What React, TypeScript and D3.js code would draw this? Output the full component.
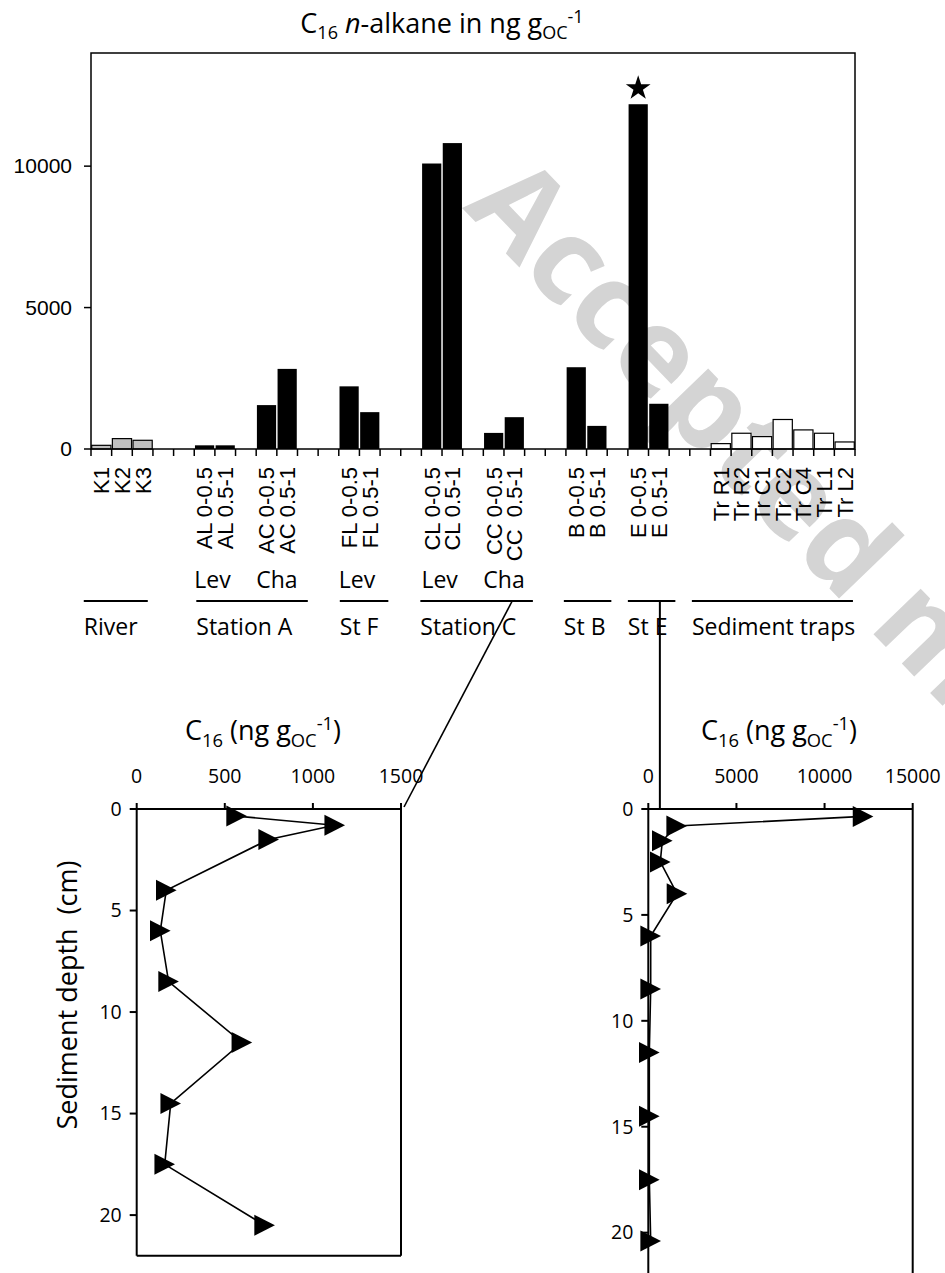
import React from 'react';
import * as d3 from 'd3';

const W = 945;
const H = 1273;

// --- top bar chart: one slot per category, "" = gap between stations ---
const slotLabels = [
  'K1', 'K2', 'K3', '', '',
  'AL 0-0.5', 'AL 0.5-1', '', 'AC 0-0.5', 'AC 0.5-1', '', '',
  'FL 0-0.5', 'FL 0.5-1', '', '',
  'CL 0-0.5', 'CL 0.5-1', '', 'CC 0-0.5', 'CC  0.5-1', '', '',
  'B 0-0.5', 'B 0.5-1', '',
  'E 0-0.5', 'E 0.5-1', '', '',
  'Tr R1', 'Tr R2', 'Tr C1', 'Tr C2', 'Tr C4', 'Tr L1', 'Tr L2',
];
const slotValues = [
  130, 367, 308, null, null,
  130, 130, null, 1552, 2832, null, null,
  2215, 1303, null, null,
  10093, 10815, null, 569, 1125, null, null,
  2891, 817, null,
  12189, 1599, null, null,
  190, 557, 438, 1043, 675, 557, 249,
];
const starredSlot = 26; // E 0-0.5
const barTicks = [0, 5000, 10000];

// sub labels under the sample names
const subText = ['Lev', 'Cha', 'Lev', 'Lev', 'Cha'];
const subSlot = [5, 8, 12, 16, 19];

// station groups, spans in slot units
const groupNames = ['River', 'Station A', 'St F', 'Station C', 'St B', 'St E', 'Sediment traps'];
const groupFrom = [-0.35, 5.1, 12.05, 15.95, 22.9, 26, 29.1];
const groupTo = [2.75, 10.5, 14.4, 21.4, 25.2, 28.3, 36.9];

// --- depth profiles ---
const ccDepth = [0.35, 0.8, 1.5, 4, 6, 8.5, 11.5, 14.5, 17.5, 20.5];
const ccValues = [567, 1124, 749, 168, 134, 181, 597, 193, 159, 726];
const eDepth = [0.35, 0.8, 1.5, 2.5, 4, 6, 8.5, 11.5, 14.5, 17.5, 20.4];
const eValues = [12185, 1611, 795, 681, 1629, 136, 136, 57, 58, 58, 136];
const ccTicks = [0, 500, 1000, 1500];
const eTicks = [0, 5000, 10000, 15000];
const depthTicks = [0, 5, 10, 15, 20];

const ARIAL = 'Liberation Sans, Arial, sans-serif';
const SANS = 'Open Sans, Noto Sans, sans-serif';

const C16Label = ({ x, y, size }) => (
  <text x={x} y={y} fontFamily={SANS} fontSize={size} textAnchor="middle">
    C<tspan fontSize={size * 0.68} dy={size * 0.25}>16</tspan>
    <tspan dy={-size * 0.25}> (ng g</tspan>
    <tspan fontSize={size * 0.68} dy={size * 0.25}>OC</tspan>
    <tspan fontSize={size * 0.68} dy={-size * 0.62}>-1</tspan>
    <tspan dy={size * 0.37}>)</tspan>
  </text>
);

const Profile = ({ left, right, top, bottom, xMax, ticks, depth, values, hideBottom }) => {
  const x = d3.scaleLinear().domain([0, xMax]).range([left, right]);
  const y = d3.scaleLinear().domain([0, 22]).range([top, bottom]);
  const line = d3.line<number>().x((d) => x(d)).y((_, i) => y(depth[i]));
  const tri = 'M-10.3,-10.5L10.3,0L-10.3,10.5Z';
  return (
    <g>
      <line x1={left} x2={right} y1={top} y2={top} stroke="#000" strokeWidth={2} />
      <line x1={left} x2={left} y1={top} y2={bottom} stroke="#000" strokeWidth={2} />
      <line x1={right} x2={right} y1={top} y2={bottom} stroke="#000" strokeWidth={2} />
      {!hideBottom && <line x1={left} x2={right} y1={bottom} y2={bottom} stroke="#000" strokeWidth={2} />}
      {ticks.map((t) => (
        <g key={t}>
          <line x1={x(t)} x2={x(t)} y1={top} y2={top - 6} stroke="#000" strokeWidth={2} />
          <text x={x(t)} y={783} fontFamily={SANS} fontSize={19.5} textAnchor="middle">{t}</text>
        </g>
      ))}
      {depthTicks.map((t) => (
        <g key={t}>
          <line x1={left - 7} x2={left} y1={y(t)} y2={y(t)} stroke="#000" strokeWidth={2} />
          <text x={left - 15} y={y(t)} dy="0.35em" fontFamily={SANS} fontSize={19.5} textAnchor="end">{t}</text>
        </g>
      ))}
      <path d={line(values) || ''} fill="none" stroke="#000" strokeWidth={1.6} />
      {values.map((v, i) => (
        <path key={i} d={tri} transform={`translate(${x(v)},${y(depth[i])})`} fill="#000" />
      ))}
    </g>
  );
};

export default function App() {
  const left = 91, right = 855, top = 53, base = 449;
  const slotX = d3.scaleLinear().domain([0, slotLabels.length]).range([left, right]);
  const band = d3.scaleBand<number>()
    .domain(d3.range(slotLabels.length))
    .range([left, right])
    .paddingInner(0.07)
    .paddingOuter(0.035);
  const y = d3.scaleLinear().domain([0, 14000]).range([base, top]);

  const fillFor = (label: string) =>
    label.startsWith('K') ? '#c0c0c0' : label.startsWith('Tr') ? '#ffffff' : '#000000';

  const star = d3.symbol().type(d3.symbolStar).size(190)() || '';

  // profile frames
  const cc = { left: 136.7, right: 401, top: 809, bottom: 1255.7 };
  const ee = { left: 648.3, right: 912.7, top: 809, bottom: 1275 };
  const lineY = 601;

  return (
    <svg width={W} height={H} style={{ position: 'absolute', left: 0, top: 0, background: '#fff' }}>
      {/* watermark */}
      <text
        x={462}
        y={208}
        transform="rotate(46 462 208)"
        fontFamily={SANS}
        fontWeight="bold"
        fontSize={120}
        fill="#d4d4d4"
      >
        Accepted manuscript
      </text>

      {/* title */}
      <text x={442} y={33} fontFamily={SANS} fontSize={27} textAnchor="middle">
        C<tspan fontSize={18} dy={6}>16</tspan>
        <tspan dy={-6}> </tspan>
        <tspan fontStyle="italic">n</tspan>
        <tspan>-alkane in ng g</tspan>
        <tspan fontSize={18} dy={6}>OC</tspan>
        <tspan fontSize={18} dy={-16}>-1</tspan>
      </text>

      {/* bars */}
      {slotValues.map((v, i) =>
        v == null ? null : (
          <rect
            key={i}
            x={band(i)}
            y={y(v)}
            width={band.bandwidth()}
            height={base - y(v)}
            fill={fillFor(slotLabels[i])}
            stroke="#000"
            strokeWidth={fillFor(slotLabels[i]) === '#000000' ? 0 : 1.2}
          />
        )
      )}
      <path
        d={star}
        transform={`translate(${(band(starredSlot) || 0) + band.bandwidth() / 2},${y(slotValues[starredSlot] as number) - 16})`}
        fill="#000"
      />

      {/* frame */}
      <rect x={left} y={top} width={right - left} height={base - top} fill="none" stroke="#000" strokeWidth={1.5} />

      {/* y axis */}
      {barTicks.map((t) => (
        <g key={t}>
          <line x1={left - 7} x2={left} y1={y(t)} y2={y(t)} stroke="#000" strokeWidth={1.5} />
          <text x={72} y={y(t)} dy="0.35em" fontFamily={ARIAL} fontSize={21} textAnchor="end">{t}</text>
        </g>
      ))}

      {/* x axis ticks at slot edges */}
      {d3.range(slotLabels.length + 1).map((i) => (
        <line key={i} x1={slotX(i)} x2={slotX(i)} y1={base} y2={base + 7} stroke="#000" strokeWidth={1.5} />
      ))}
      {slotLabels.map((l, i) =>
        l === '' ? null : (
          <text
            key={i}
            transform={`translate(${slotX(i + 0.5)},467) rotate(-90)`}
            dy="0.36em"
            fontFamily={ARIAL}
            fontSize={22}
            textAnchor="end"
            style={{ whiteSpace: 'pre' }}
          >
            {l}
          </text>
        )
      )}

      {/* Lev / Cha */}
      {subText.map((s, i) => (
        <text key={i} x={slotX(subSlot[i])} y={588} fontFamily={SANS} fontSize={23}>{s}</text>
      ))}

      {/* station groups */}
      {groupNames.map((g, i) => (
        <g key={g}>
          <line x1={slotX(groupFrom[i])} x2={slotX(groupTo[i])} y1={lineY} y2={lineY} stroke="#000" strokeWidth={2} />
          <text x={slotX(groupFrom[i])} y={635} fontFamily={SANS} fontSize={23}>{g}</text>
        </g>
      ))}

      {/* connectors to the profiles */}
      <line x1={slotX(20.4)} y1={lineY} x2={cc.right + 3} y2={cc.top - 2} stroke="#000" strokeWidth={1.6} />
      <line x1={slotX(27.55)} y1={lineY} x2={slotX(27.55)} y2={ee.top} stroke="#000" strokeWidth={2} />

      {/* profiles */}
      <Profile {...cc} xMax={1500} ticks={ccTicks} depth={ccDepth} values={ccValues} />
      <Profile {...ee} xMax={15000} ticks={eTicks} depth={eDepth} values={eValues} hideBottom />
      <C16Label x={263} y={740} size={27} />
      <C16Label x={779} y={740} size={27} />

      <text
        transform="translate(77,995) rotate(-90)"
        fontFamily={SANS}
        fontSize={27}
        textAnchor="middle"
        style={{ whiteSpace: 'pre' }}
      >
        Sediment depth  (cm)
      </text>
    </svg>
  );
}
